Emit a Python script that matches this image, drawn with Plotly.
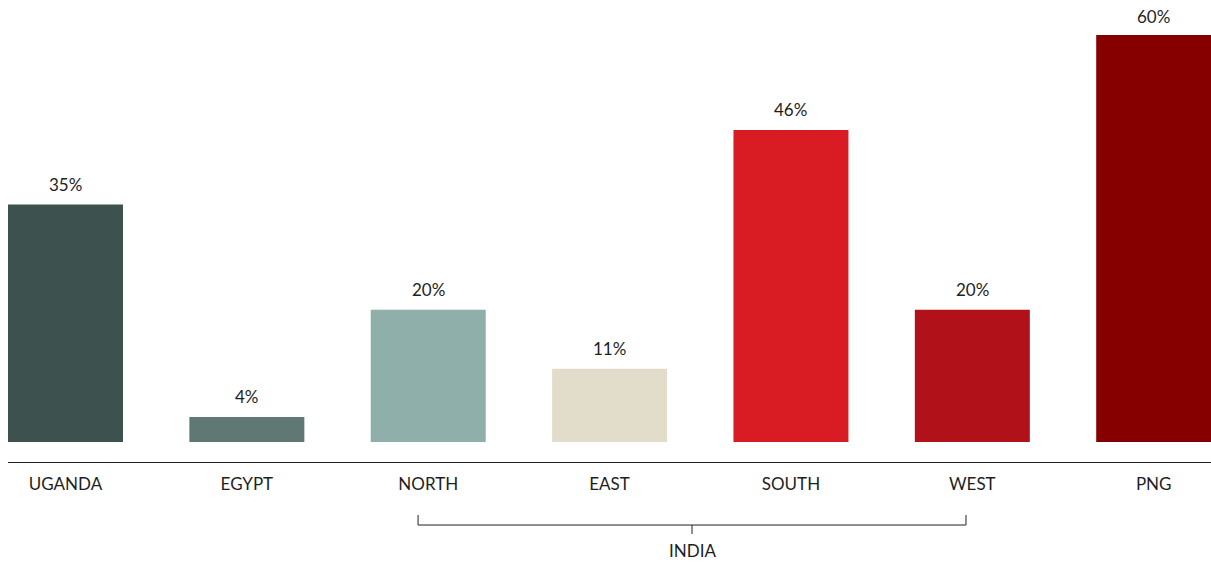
import plotly.graph_objects as go

categories = ["UGANDA", "EGYPT", "NORTH", "EAST", "SOUTH", "WEST", "PNG"]
values = [35, 3.7, 19.5, 10.8, 46, 19.5, 60]
labels = ["35%", "4%", "20%", "11%", "46%", "20%", "60%"]
colors = ["#3d514f", "#5f7873", "#8fb0aa", "#e2ddca", "#d91c23", "#b11118", "#870000"]
group_label = "INDIA"
group_span = (2, 5)

FONT = "Lato, 'Open Sans', sans-serif"
TXT = "#1e1e1e"
FS = 17

x = list(range(len(categories)))
fig = go.Figure(go.Bar(x=x, y=values, marker=dict(color=colors, line=dict(width=0)),
                       width=0.634, hoverinfo="skip"))

for xi, v, t in zip(x, values, labels):
    fig.add_annotation(x=xi, y=v, text=t, showarrow=False, yanchor="bottom",
                       yshift=8 if v < 55 else 6, font=dict(family=FONT, size=FS, color=TXT))

g0, g1 = group_span
gl, gr = g0 - 0.056, g1 - 0.035
gm = (gl + gr) / 2
line = dict(color="#222222", width=1)
fig.add_shape(type="line", xref="x", yref="paper", x0=gl, x1=gl, y0=-0.1147, y1=-0.1364, line=line)
fig.add_shape(type="line", xref="x", yref="paper", x0=gr, x1=gr, y0=-0.1147, y1=-0.1364, line=line)
fig.add_shape(type="line", xref="x", yref="paper", x0=gl, x1=gr, y0=-0.1364, y1=-0.1364, line=line)
fig.add_shape(type="line", xref="x", yref="paper", x0=gm, x1=gm, y0=-0.1364, y1=-0.1558, line=line)
fig.add_annotation(x=gm, xref="x", yref="paper", y=-0.1926, text=group_label, showarrow=False,
                   yanchor="middle", font=dict(family=FONT, size=FS, color=TXT))

fig.update_layout(
    width=1211, height=562, margin=dict(l=8, r=0, t=0, b=100),
    plot_bgcolor="white", paper_bgcolor="white", showlegend=False,
    font=dict(family=FONT, size=FS, color=TXT),
    xaxis=dict(range=[-0.317, 6.316], tickmode="array", tickvals=x, ticktext=categories,
               showline=True, linecolor="#222222", linewidth=1, showgrid=False, zeroline=False,
               ticks="outside", ticklen=7, tickcolor="rgba(0,0,0,0)",
               tickfont=dict(family=FONT, size=FS, color=TXT), fixedrange=True),
    yaxis=dict(range=[-2.949, 65.16], visible=False, showgrid=False, zeroline=False, fixedrange=True),
)
fig.write_html("out.html")
